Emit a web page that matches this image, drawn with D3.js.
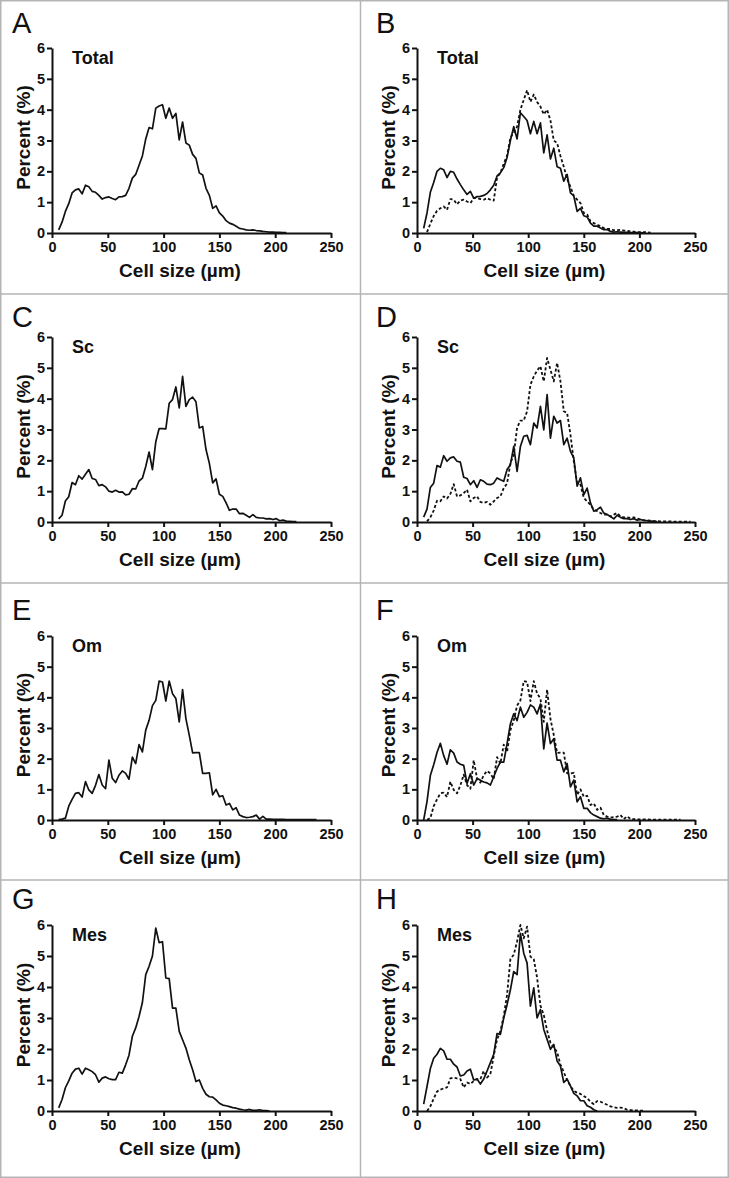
<!DOCTYPE html>
<html><head><meta charset="utf-8">
<script src="https://cdn.jsdelivr.net/npm/d3@7"></script>
<style>
body{margin:0;background:#fff}
svg{display:block}
text{font-family:"Liberation Sans",Arial,Helvetica,sans-serif;fill:#111}
</style>
</head><body>
<svg id="chart" width="729" height="1178"></svg>
<script>
// Cell size bins (µm)
const cellSize = [6,9,12,15,18,21,24,27,30,33,36,39,42,45,48,51,54,57,60,63,66,69,72,75,78,81,84,87,90,93,
  96,99,102,105,108,111,114,117,120,123,126,129,132,135,138,141,144,147,150,153,156,159,162,165,168,171,174,177,180,183,
  186,189,192,195,198,201,204,207,210,213,216,219,222,225,228,231,234,237,240,243,246,249];

const xTicks = [0,50,100,150,200,250];
const yTicks = [0,1,2,3,4,5,6];

// Panel A: Total (all)
const totalAll = [0.10,0.35,0.70,0.95,1.30,1.40,1.43,1.27,1.55,1.50,
 1.35,1.32,1.22,1.10,1.15,1.17,1.12,1.08,1.17,1.18,
 1.22,1.45,1.78,1.90,2.20,2.50,3.05,3.42,3.38,4.05,
 4.12,4.16,3.72,4.05,3.72,3.88,3.02,3.60,2.92,2.85,
 2.55,2.42,1.95,1.88,1.45,1.22,0.80,0.88,0.65,0.55,
 0.40,0.32,0.28,0.22,0.15,0.13,0.10,0.09,0.10,0.08,
 0.07,0.05,0.04,0.03,0.03,0.02,0.02,0.01,0.01];

// Panel B: Total, solid and dashed groups
const totalSolid = [0.15,0.65,1.32,1.64,2.00,2.10,2.05,1.80,2.00,1.97,
 1.75,1.57,1.40,1.25,1.35,1.13,1.18,1.19,1.22,1.28,
 1.40,1.55,1.85,1.95,2.12,2.45,3.00,3.45,3.05,3.90,
 3.78,3.65,3.22,3.62,3.22,3.57,2.60,3.18,2.40,2.75,
 2.15,2.10,1.68,1.90,1.30,1.20,0.70,0.80,0.56,0.52,
 0.32,0.22,0.22,0.16,0.11,0.11,0.05,0.03,0.04,0.03,
 0.02,0.02,0.01,0.01,0.01,0.01,0.00];
const totalDashed = [null,0.03,0.30,0.55,0.72,0.80,0.86,0.75,1.10,1.08,
 0.93,1.05,1.08,1.02,0.97,1.13,1.14,1.10,1.08,1.13,
 1.08,1.05,1.80,1.95,2.25,2.50,3.10,3.25,3.45,4.00,
 4.32,4.63,4.25,4.49,4.25,4.10,3.85,4.00,3.65,3.00,
 2.92,2.50,2.15,1.75,1.50,1.20,1.08,0.97,0.65,0.60,
 0.38,0.32,0.27,0.22,0.16,0.13,0.13,0.09,0.09,0.10,
 0.08,0.07,0.05,0.04,0.03,0.03,0.03,0.02,0.01];

// Panel C: Sc (all)
const scAll = [0.10,0.22,0.68,0.82,1.28,1.21,1.50,1.39,1.55,1.70,
 1.41,1.38,1.18,1.21,1.14,1.00,0.97,1.03,0.97,0.98,
 0.88,0.90,1.08,1.07,1.33,1.42,1.80,2.27,1.70,2.60,
 3.03,3.03,3.02,3.85,3.97,4.38,3.70,4.72,3.75,3.97,
 4.05,3.90,3.05,3.10,2.35,1.90,1.27,1.40,0.90,0.83,
 0.62,0.38,0.42,0.42,0.27,0.28,0.22,0.15,0.24,0.15,
 0.13,0.13,0.10,0.11,0.08,0.11,0.04,0.06,0.03,0.02,
 0.01,0.01];

// Panel D: Sc, solid and dashed
const scSolid = [0.16,0.42,1.12,1.26,1.83,1.78,2.15,1.97,2.08,2.11,
 1.97,1.94,1.45,1.41,1.21,1.34,1.12,1.37,1.32,1.23,
 1.21,1.26,1.43,1.37,1.32,1.70,1.86,2.45,1.64,2.45,
 2.78,2.81,2.51,3.21,3.05,3.75,2.99,4.13,2.72,3.43,
 3.21,3.29,2.51,2.72,2.29,2.08,1.16,1.43,0.89,1.10,
 0.62,0.35,0.40,0.48,0.29,0.24,0.18,0.10,0.22,0.15,
 0.11,0.11,0.08,0.11,0.06,0.08,0.05,0.04,0.03,0.02,
 0.01];
const scDashed = [null,0.02,0.15,0.37,0.69,0.67,0.83,0.76,0.91,1.23,
 0.83,0.86,0.94,1.05,0.67,0.78,0.83,0.65,0.62,0.65,
 0.56,0.67,0.78,0.83,1.10,1.25,1.91,2.18,3.05,3.29,
 3.29,3.59,4.45,4.72,4.91,5.05,4.56,5.32,4.94,4.56,
 5.16,4.56,3.59,3.54,2.83,1.97,1.26,1.21,0.78,0.67,
 0.56,0.40,0.35,0.29,0.24,0.24,0.18,0.24,0.29,0.18,
 0.15,0.15,0.13,0.15,0.11,0.08,0.06,0.05,0.04,0.03,
 0.03,0.02,0.02,0.02,0.02,0.01,0.01,0.01,0.01,0.01,
 0.01];

// Panel E: Om (all)
const omAll = [0.01,0.03,0.06,0.45,0.67,0.87,0.89,0.75,1.25,0.98,
 0.87,1.13,1.48,1.14,1.02,1.95,1.36,1.22,1.46,1.60,
 1.52,1.33,2.05,1.84,2.46,2.22,2.93,3.25,3.73,3.90,
 4.53,4.50,3.88,4.53,4.12,3.96,3.20,4.25,3.30,2.77,
 2.19,2.20,2.20,1.52,1.52,1.54,0.82,1.00,0.76,0.79,
 0.49,0.54,0.33,0.40,0.16,0.11,0.08,0.09,0.11,0.16,
 0.03,0.12,0.03,0.03,0.02,0.02,0.02,0.02,0.01,0.01,
 0.01,0.01,0.01,0.01,0.01,0.01,0.01,0.01];

// Panel F: Om, solid and dashed
const omSolid = [0.00,0.60,1.45,1.80,2.20,2.50,2.10,1.82,2.29,2.18,
 1.89,1.82,1.78,1.19,1.51,1.14,1.35,1.30,1.24,1.21,
 1.14,1.41,1.68,1.89,1.89,2.49,3.14,3.46,3.24,3.68,
 3.35,3.51,3.75,3.68,3.46,3.78,2.32,3.16,2.49,2.65,
 1.95,1.95,1.57,1.84,1.08,1.30,0.59,0.76,0.38,0.38,
 0.24,0.16,0.11,0.06,0.04,0.06,0.02,0.01,0.01];
const omDashed = [null,0.01,0.06,0.45,0.67,0.87,0.89,0.75,1.25,0.98,
 0.87,1.13,1.48,1.14,1.02,1.95,1.36,1.22,1.46,1.60,
 1.52,1.33,2.05,1.84,2.46,2.22,2.93,3.25,3.73,3.90,
 4.53,4.50,3.88,4.53,4.12,3.96,3.20,4.25,3.30,2.77,
 2.19,2.20,2.20,1.52,1.52,1.54,0.82,1.00,0.76,0.79,
 0.49,0.54,0.33,0.40,0.16,0.11,0.08,0.09,0.11,0.16,
 0.03,0.12,0.03,0.03,0.02,0.02,0.02,0.02,0.01,0.01,
 0.01,0.01,0.01,0.01,0.01,0.01,0.01,0.01];

// Panel G: Mes (all)
const mesAll = [0.10,0.37,0.75,0.97,1.22,1.35,1.38,1.19,1.38,1.33,
 1.27,1.17,0.93,1.06,1.10,1.04,1.01,1.01,1.25,1.22,
 1.49,1.80,2.41,2.68,3.05,3.50,4.40,4.67,5.00,5.90,
 5.43,5.46,4.29,4.27,3.32,3.32,2.57,2.30,2.03,1.65,
 1.33,0.95,1.00,0.73,0.54,0.46,0.45,0.36,0.25,0.19,
 0.17,0.14,0.11,0.09,0.06,0.04,0.03,0.05,0.02,0.02,
 0.04,0.01,0.01,0.00];

// Panel H: Mes, solid and dashed
const mesSolid = [0.22,0.79,1.37,1.70,1.83,2.02,1.94,1.67,1.67,1.51,
 1.42,1.13,1.16,1.29,1.35,1.00,1.03,0.87,1.03,1.29,
 1.56,1.83,2.50,2.47,3.00,3.43,3.91,4.50,4.40,5.73,
 5.09,4.77,3.38,3.97,3.00,3.27,2.63,2.31,1.99,2.15,
 1.61,1.45,0.92,1.03,0.81,0.57,0.49,0.33,0.33,0.17,
 0.12,0.04,0.00];
const mesDashed = [null,0.00,0.15,0.40,0.63,0.69,0.73,0.76,1.05,1.08,
 1.05,1.03,0.76,0.92,0.87,0.97,1.03,1.03,1.29,1.08,
 1.19,1.78,2.31,2.58,3.06,3.75,4.90,5.04,5.47,6.00,
 5.57,5.95,4.98,4.90,4.30,3.40,3.10,2.60,2.20,2.05,
 1.90,1.50,1.25,1.00,0.80,0.65,0.59,0.55,0.48,0.42,
 0.30,0.22,0.32,0.30,0.25,0.20,0.15,0.12,0.10,0.11,
 0.09,0.04,0.03,0.02,0.02,0.01,0.01];

const panelLetters = ["A","B","C","D","E","F","G","H"];
const panelTitles = ["Total","Total","Sc","Sc","Om","Om","Mes","Mes"];
const panelSeries = [
  [{v:totalAll,dash:false}],
  [{v:totalSolid,dash:false},{v:totalDashed,dash:true}],
  [{v:scAll,dash:false}],
  [{v:scSolid,dash:false},{v:scDashed,dash:true}],
  [{v:omAll,dash:false}],
  [{v:omSolid,dash:false},{v:omDashed,dash:true}],
  [{v:mesAll,dash:false}],
  [{v:mesSolid,dash:false},{v:mesDashed,dash:true}]
];
const xLabel = "Cell size (µm)";
const yLabel = "Percent (%)";

// ---- layout ----
const W = 729, H = 1178;
const cols = [
  {left:52, right:331, pL:0, pR:360, letterX:12},
  {left:417, right:695, pL:360, pR:729, letterX:376}
];
const rows = [
  {top:48, bottom:233, letterY:33},
  {top:337, bottom:522, letterY:327},
  {top:636, bottom:820, letterY:620},
  {top:925, bottom:1111, letterY:909}
];
const dividersY = [294, 583, 880];
const dividerX = 360.5;

const svg = d3.select("#chart");
svg.append("rect").attr("width",W).attr("height",H).attr("fill","#fff");

// grid borders
const borderColor = "#b5b5b5";
svg.append("rect").attr("x",0.75).attr("y",0.75).attr("width",W-1.5).attr("height",H-1.5)
  .attr("fill","none").attr("stroke",borderColor).attr("stroke-width",1.5);
svg.append("line").attr("x1",dividerX).attr("x2",dividerX).attr("y1",0).attr("y2",H)
  .attr("stroke",borderColor).attr("stroke-width",1.5);
dividersY.forEach(y=>{
  svg.append("line").attr("x1",0).attr("x2",W).attr("y1",y).attr("y2",y)
    .attr("stroke",borderColor).attr("stroke-width",1.5);
});

panelLetters.forEach((letter,i)=>{
  const c = cols[i%2], r = rows[Math.floor(i/2)];
  const x = d3.scaleLinear().domain([0,250]).range([c.left,c.right]);
  const y = d3.scaleLinear().domain([0,6]).range([r.bottom,r.top]);
  const g = svg.append("g");

  // letter
  g.append("text").attr("x",c.letterX).attr("y",r.letterY)
    .attr("font-size",29).text(letter);

  // axes
  const xa = g.append("g").attr("transform",`translate(0,${r.bottom})`)
    .call(d3.axisBottom(x).tickValues(xTicks).tickFormat(d3.format("d"))
      .tickSize(5).tickSizeOuter(0).tickPadding(4));
  const ya = g.append("g").attr("transform",`translate(${c.left},0)`)
    .call(d3.axisLeft(y).tickValues(yTicks).tickFormat(d3.format("d"))
      .tickSize(5).tickSizeOuter(0).tickPadding(2));
  [xa,ya].forEach(a=>{
    a.select(".domain").attr("stroke","#111").attr("stroke-width",2);
    a.selectAll(".tick line").attr("stroke","#111").attr("stroke-width",2);
    a.selectAll(".tick text").attr("font-size",14.5).attr("font-weight","bold")
      .attr("font-family",'"Liberation Sans",Arial,sans-serif').attr("fill","#111");
  });

  // title
  g.append("text").attr("x",c.left+20).attr("y",r.top+16)
    .attr("font-size",18).attr("font-weight","bold").text(panelTitles[i]);

  // axis labels
  g.append("text").attr("x",(c.pL+c.pR)/2).attr("y",r.bottom+44)
    .attr("text-anchor","middle").attr("font-size",19).attr("font-weight","bold").text(xLabel);
  const cy = (r.top+r.bottom)/2 - 3;
  g.append("text").attr("transform",`translate(${c.left-22},${cy}) rotate(-90)`)
    .attr("text-anchor","middle").attr("font-size",19).attr("font-weight","bold").text(yLabel);

  // lines
  const line = d3.line()
    .defined(d=>d[1]!==null && d[1]!==undefined)
    .x(d=>x(d[0])).y(d=>y(d[1]));
  panelSeries[i].slice().reverse().forEach(s=>{
    const pts = s.v.map((val,k)=>[cellSize[k],val]);
    g.append("path").datum(pts).attr("d",line)
      .attr("fill","none").attr("stroke","#111")
      .attr("stroke-width",s.dash?1.8:1.7)
      .attr("stroke-linejoin","round")
      .attr("stroke-dasharray",s.dash?"3,2.2":null);
  });
});
</script>
</body></html>
